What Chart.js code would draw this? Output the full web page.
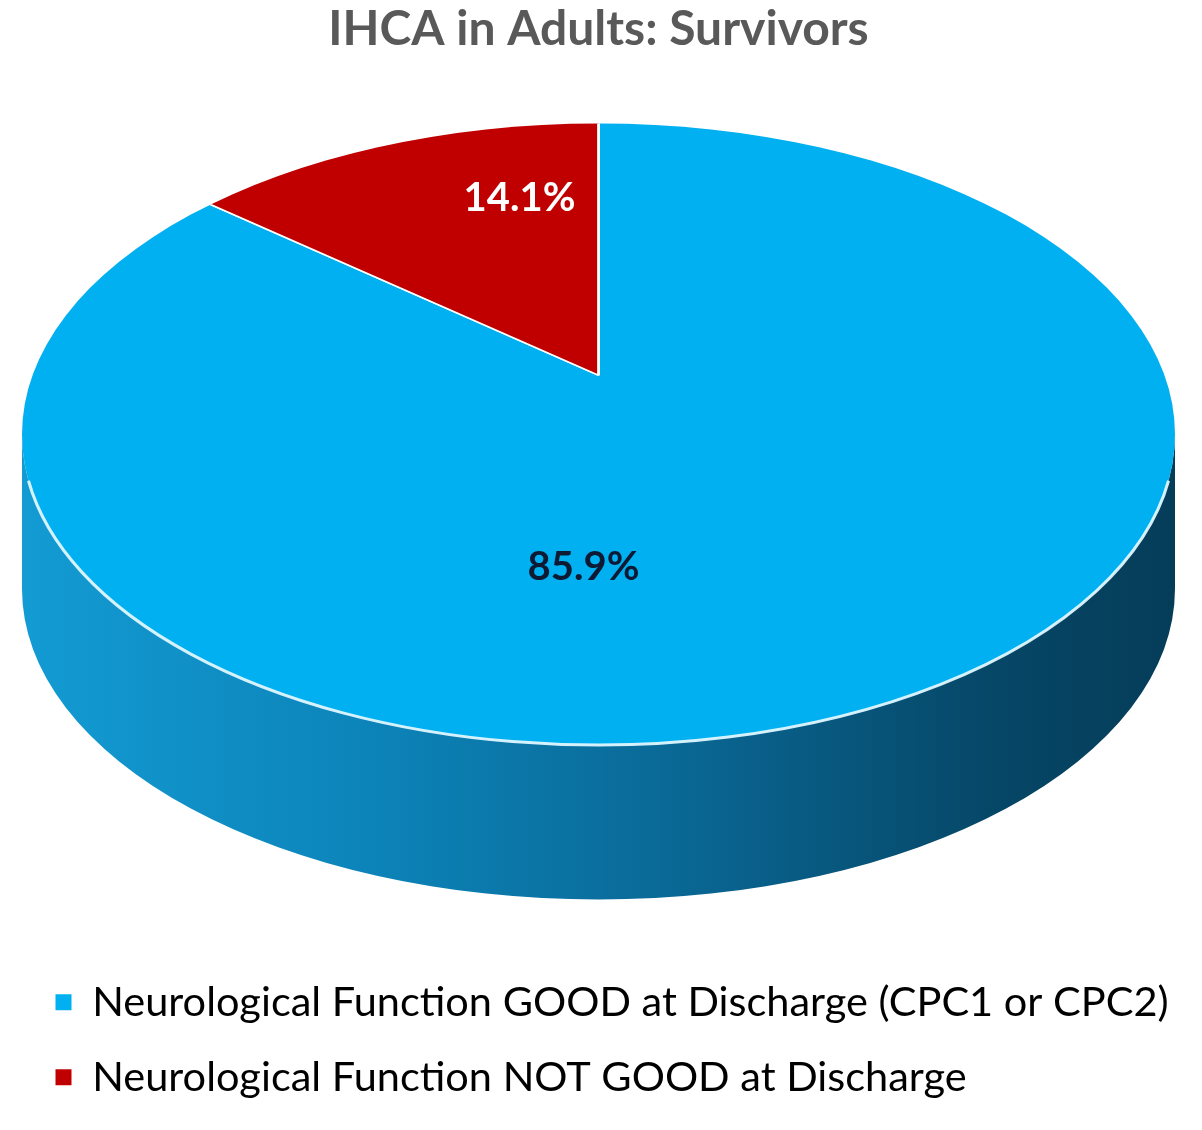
<!DOCTYPE html>
<html>
<head>
<meta charset="utf-8">
<script src="https://cdn.jsdelivr.net/npm/chart.js@4.4.1/dist/chart.umd.min.js"></script>
<style>
  html, body { margin: 0; padding: 0; background: #fff; }
  #wrap { width: 1202px; height: 1130px; }
</style>
</head>
<body>
<div id="wrap"><canvas id="survivorsChart"></canvas></div>
<script>
const categories = [
  'Neurological Function GOOD at Discharge (CPC1 or CPC2)',
  'Neurological Function NOT GOOD at Discharge'
];
const shares = [85.9, 14.1];
const sliceColors = ['#00b0f0', '#c00000'];
const valueColors = ['#0c1a33', '#ffffff'];

const FONT = "Lato, 'Open Sans', sans-serif";

// fake 3d: side wall under the pie, top face squashed and clipped to an ellipse
const pie3d = {
  id: 'pie3d',
  geom(chart, opts) {
    const a = chart.chartArea;
    const rx = (a.right - a.left) / 2;
    const ry = rx * opts.tilt;
    return { cx: (a.left + a.right) / 2, cy: a.top + ry, rx, ry, depth: rx * opts.depth };
  },
  beforeDatasetsDraw(chart, args, opts) {
    const ctx = chart.ctx;
    const g = this.geom(chart, opts);
    const arc = chart.getDatasetMeta(0).data[0];

    ctx.save();
    const grad = ctx.createLinearGradient(g.cx - g.rx, 0, g.cx + g.rx, 0);
    grad.addColorStop(0, '#139bd3');
    grad.addColorStop(0.3, '#0c84b9');
    grad.addColorStop(0.55, '#0a6a98');
    grad.addColorStop(0.85, '#064666');
    grad.addColorStop(1, '#053d59');
    ctx.beginPath();
    ctx.ellipse(g.cx, g.cy, g.rx, g.ry, 0, 0, Math.PI);
    ctx.lineTo(g.cx - g.rx, g.cy + g.depth);
    ctx.ellipse(g.cx, g.cy + g.depth, g.rx, g.ry, 0, Math.PI, 0, true);
    ctx.closePath();
    ctx.fillStyle = grad;
    ctx.fill();
    ctx.restore();

    // top face (restored in afterDatasetsDraw)
    ctx.save();
    ctx.beginPath();
    ctx.ellipse(g.cx, g.cy, g.rx, g.ry, 0, 0, Math.PI * 2);
    ctx.clip();
    const k = opts.spread * g.rx / arc.outerRadius;
    ctx.translate(g.cx, g.cy + opts.apex * g.ry);
    ctx.scale(k, k * opts.tilt);
    ctx.translate(-arc.x, -arc.y);
  },
  afterDatasetsDraw(chart, args, opts) {
    const ctx = chart.ctx;
    ctx.restore();
    const g = this.geom(chart, opts);

    // light rim along the front edge
    ctx.save();
    ctx.beginPath();
    ctx.ellipse(g.cx, g.cy, g.rx, g.ry, 0, 0.15, Math.PI - 0.15);
    ctx.strokeStyle = 'rgba(222,247,255,0.95)';
    ctx.lineWidth = 3;
    ctx.stroke();

    // percentage labels
    const total = shares.reduce((s, v) => s + v, 0);
    ctx.font = 'bold 40px ' + FONT;
    ctx.textAlign = 'center';
    ctx.textBaseline = 'middle';
    shares.forEach((v, i) => {
      const [ax, ay] = opts.anchors[i];
      ctx.fillStyle = valueColors[i];
      ctx.fillText((v / total * 100).toFixed(1) + '%', g.cx + ax * g.rx, g.cy + ay * g.ry);
    });
    ctx.restore();
  }
};

new Chart(document.getElementById('survivorsChart'), {
  type: 'pie',
  data: {
    labels: categories,
    datasets: [{
      data: shares,
      backgroundColor: sliceColors,
      borderColor: '#ffffff',
      borderWidth: 1.5,
      clip: false
    }]
  },
  options: {
    responsive: true,
    maintainAspectRatio: false,
    animation: false,
    events: [],
    layout: { padding: { left: 22, right: 27, top: 0, bottom: 22 } },
    plugins: {
      title: {
        display: true,
        text: 'IHCA in Adults: Survivors',
        color: '#595959',
        font: { family: FONT, size: 48, weight: 'bold' },
        padding: { top: 1, bottom: 65 }
      },
      legend: {
        position: 'bottom',
        align: 'start',
        labels: {
          color: '#595959',
          font: { family: FONT, size: 41.5 },
          boxWidth: 16,
          boxHeight: 16,
          padding: 33.5,
          generateLabels(chart) {
            return categories.map((text, i) => ({
              text,
              fillStyle: sliceColors[i],
              strokeStyle: sliceColors[i],
              lineWidth: 0,
              index: i
            }));
          }
        }
      },
      tooltip: { enabled: false },
      pie3d: {
        tilt: 0.539,
        depth: 0.268,
        spread: 1.3,
        apex: -0.19,
        anchors: [[-0.026, 0.428], [-0.137, -0.759]]
      }
    }
  },
  plugins: [pie3d]
});
</script>
</body>
</html>
